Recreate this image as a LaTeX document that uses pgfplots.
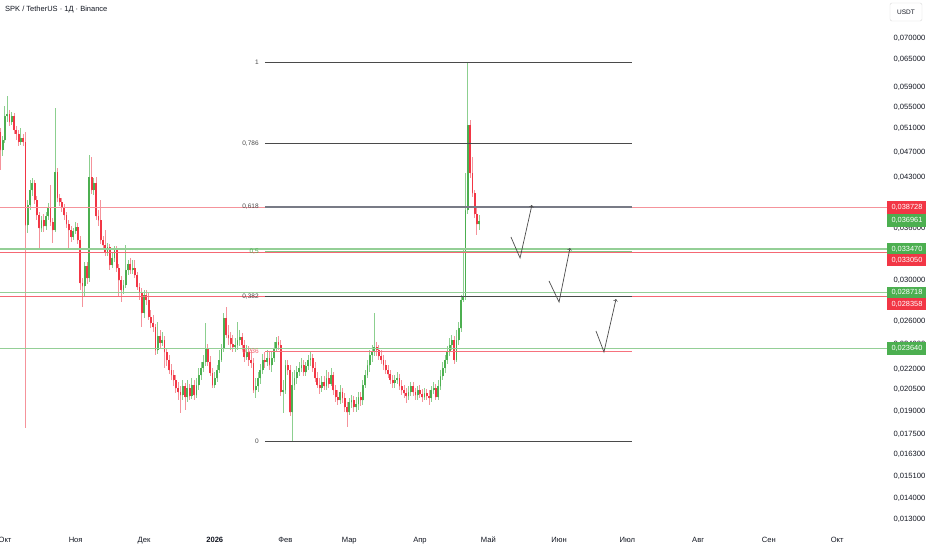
\documentclass[border=0pt]{standalone}
\usepackage{pgfplots}
\usepackage{pgfplotstable}
\pgfplotsset{compat=1.18}
\usepackage{fontspec}
\setmainfont{Liberation Sans}

\definecolor{up}{HTML}{4CAF50}
\definecolor{down}{HTML}{F23645}
\definecolor{upw}{HTML}{8CCF8F}
\definecolor{downw}{HTML}{F5939B}
\definecolor{txt}{HTML}{131722}
\definecolor{fibk}{HTML}{4A4A4A}
\definecolor{fibg}{HTML}{787B86}

% daily candles, d = days since 1 Oct 2025
\pgfplotstableread{
d o h l c
-2 0.05040 0.05110 0.04412 0.04732
-1 0.04732 0.04970 0.04634 0.04900
0 0.04900 0.05519 0.04849 0.05329
1 0.05329 0.05715 0.05218 0.05366
2 0.05366 0.05442 0.05146 0.05218
3 0.05218 0.05404 0.05164 0.05329
4 0.05329 0.05385 0.05005 0.05075
5 0.05075 0.05146 0.04900 0.05005
6 0.05005 0.05075 0.04798 0.04866
7 0.04866 0.05110 0.04815 0.04935
8 0.04935 0.05005 0.04798 0.04866
9 0.04866 0.05040 0.01790 0.03640
10 0.03640 0.03973 0.03540 0.03904
11 0.03904 0.04261 0.03836 0.04114
12 0.04114 0.04290 0.04029 0.04217
13 0.04217 0.04261 0.03918 0.03973
14 0.03973 0.04029 0.03704 0.03770
15 0.03770 0.03809 0.03359 0.03602
16 0.03602 0.03756 0.03552 0.03704
17 0.03704 0.03783 0.03552 0.03627
18 0.03627 0.03809 0.03577 0.03756
19 0.03756 0.03932 0.03704 0.03863
20 0.03863 0.04187 0.03627 0.03678
21 0.03678 0.03730 0.03418 0.03577
22 0.03577 0.05481 0.03552 0.04381
23 0.04381 0.04443 0.03945 0.04001
24 0.04001 0.04057 0.03891 0.03945
25 0.03945 0.04001 0.03809 0.03877
26 0.03877 0.03918 0.03704 0.03770
27 0.03770 0.03809 0.03602 0.03653
28 0.03653 0.03704 0.03336 0.03577
29 0.03577 0.03627 0.03430 0.03491
30 0.03491 0.03602 0.03454 0.03565
31 0.03565 0.03678 0.03527 0.03614
32 0.03614 0.03665 0.03406 0.03454
33 0.03454 0.03503 0.02900 0.02972
34 0.02972 0.03024 0.02733 0.02941
35 0.02941 0.03199 0.02830 0.03154
36 0.03154 0.03199 0.02961 0.03024
37 0.03024 0.04650 0.02982 0.04305
38 0.04305 0.04618 0.04057 0.04114
39 0.04114 0.04290 0.04043 0.04217
40 0.04217 0.04305 0.03704 0.03756
41 0.03756 0.03836 0.03627 0.03704
42 0.03704 0.03973 0.03406 0.03454
43 0.03454 0.03503 0.03336 0.03394
44 0.03394 0.03577 0.03267 0.03313
45 0.03313 0.03418 0.03267 0.03371
46 0.03371 0.03406 0.03110 0.03165
47 0.03165 0.03313 0.03132 0.03244
48 0.03244 0.03382 0.03199 0.03336
49 0.03336 0.03382 0.03088 0.03132
50 0.03132 0.03176 0.02830 0.03003
51 0.03003 0.03045 0.02781 0.02900
52 0.02900 0.03003 0.02860 0.02951
53 0.02951 0.03394 0.02920 0.03110
54 0.03110 0.03221 0.03056 0.03176
55 0.03176 0.03244 0.03067 0.03110
56 0.03110 0.03221 0.03067 0.03132
57 0.03132 0.03221 0.03024 0.03056
58 0.03056 0.03088 0.02900 0.02930
59 0.02930 0.02972 0.02801 0.02880
60 0.02880 0.02920 0.02548 0.02676
61 0.02676 0.02900 0.02630 0.02850
62 0.02850 0.02900 0.02752 0.02801
63 0.02801 0.02870 0.02611 0.02639
64 0.02639 0.02704 0.02539 0.02584
65 0.02584 0.02657 0.02504 0.02548
66 0.02548 0.02575 0.02310 0.02351
67 0.02351 0.02593 0.02319 0.02470
68 0.02470 0.02522 0.02368 0.02410
69 0.02410 0.02504 0.02385 0.02435
70 0.02435 0.02470 0.02208 0.02335
71 0.02335 0.02368 0.02224 0.02271
72 0.02271 0.02310 0.02162 0.02192
73 0.02192 0.02239 0.02117 0.02154
74 0.02154 0.02192 0.02073 0.02117
75 0.02117 0.02154 0.02023 0.02059
76 0.02059 0.02102 0.01974 0.02030
77 0.02030 0.02073 0.01886 0.02009
78 0.02009 0.02117 0.01974 0.02073
79 0.02073 0.02095 0.01906 0.01995
80 0.01995 0.02117 0.01960 0.02059
81 0.02059 0.02088 0.01974 0.02002
82 0.02002 0.02132 0.01981 0.02080
83 0.02080 0.02117 0.01974 0.02009
84 0.02009 0.02132 0.01988 0.02080
85 0.02080 0.02208 0.02044 0.02154
86 0.02154 0.02255 0.02117 0.02208
87 0.02208 0.02310 0.02177 0.02255
88 0.02255 0.02584 0.02224 0.02368
89 0.02368 0.02401 0.02224 0.02255
90 0.02255 0.02302 0.02147 0.02169
91 0.02169 0.02208 0.02059 0.02080
92 0.02080 0.02177 0.02059 0.02132
93 0.02132 0.02231 0.02102 0.02192
94 0.02192 0.02351 0.02169 0.02271
95 0.02271 0.02401 0.02255 0.02368
96 0.02368 0.02676 0.02335 0.02630
97 0.02630 0.02733 0.02452 0.02478
98 0.02478 0.02566 0.02393 0.02452
99 0.02452 0.02504 0.02351 0.02401
100 0.02401 0.02478 0.02335 0.02376
101 0.02376 0.02452 0.02335 0.02393
102 0.02393 0.02593 0.02351 0.02435
103 0.02435 0.02522 0.02385 0.02461
104 0.02461 0.02496 0.02351 0.02393
105 0.02393 0.02435 0.02255 0.02294
106 0.02294 0.02393 0.02271 0.02335
107 0.02335 0.02385 0.02224 0.02271
108 0.02271 0.02351 0.02208 0.02247
109 0.02247 0.02286 0.02023 0.02044
110 0.02044 0.02132 0.01988 0.02073
111 0.02073 0.02177 0.02030 0.02132
112 0.02132 0.02239 0.02088 0.02192
113 0.02192 0.02319 0.02162 0.02271
114 0.02271 0.02335 0.02208 0.02255
115 0.02255 0.02351 0.02224 0.02286
116 0.02286 0.02335 0.02192 0.02231
117 0.02231 0.02335 0.02177 0.02286
118 0.02286 0.02418 0.02255 0.02368
119 0.02368 0.02461 0.02335 0.02418
120 0.02418 0.02470 0.02351 0.02393
121 0.02393 0.02435 0.02002 0.02030
122 0.02030 0.02117 0.01886 0.02044
123 0.02044 0.02271 0.02016 0.02231
124 0.02231 0.02271 0.02154 0.02192
125 0.02192 0.02231 0.01866 0.01893
126 0.01893 0.02177 0.01710 0.02080
127 0.02080 0.02192 0.02044 0.02132
128 0.02132 0.02224 0.02088 0.02177
129 0.02177 0.02255 0.02147 0.02208
130 0.02208 0.02286 0.02177 0.02231
131 0.02231 0.02271 0.02147 0.02177
132 0.02177 0.02255 0.02147 0.02224
133 0.02224 0.02310 0.02192 0.02271
134 0.02271 0.02335 0.02224 0.02286
135 0.02286 0.02319 0.02177 0.02208
136 0.02208 0.02255 0.02102 0.02132
137 0.02132 0.02177 0.02059 0.02080
138 0.02080 0.02132 0.02016 0.02059
139 0.02059 0.02147 0.02030 0.02102
140 0.02102 0.02147 0.02044 0.02073
141 0.02073 0.02192 0.02044 0.02132
142 0.02132 0.02177 0.02059 0.02088
143 0.02088 0.02208 0.02073 0.02154
144 0.02154 0.02177 0.02009 0.02044
145 0.02044 0.02080 0.01960 0.01995
146 0.01995 0.02044 0.01940 0.01974
147 0.01974 0.02080 0.01947 0.02030
148 0.02030 0.02059 0.01953 0.01988
149 0.01988 0.02023 0.01893 0.01926
150 0.01926 0.01960 0.01796 0.01893
151 0.01893 0.01988 0.01873 0.01960
152 0.01960 0.02009 0.01920 0.01974
153 0.01974 0.02002 0.01893 0.01926
154 0.01926 0.01995 0.01893 0.01947
155 0.01947 0.02030 0.01906 0.01995
156 0.01995 0.02030 0.01933 0.01974
157 0.01974 0.02117 0.01940 0.02080
158 0.02080 0.02192 0.02059 0.02154
159 0.02154 0.02271 0.02132 0.02231
160 0.02231 0.02351 0.02177 0.02310
161 0.02310 0.02393 0.02255 0.02335
162 0.02335 0.02676 0.02302 0.02376
163 0.02376 0.02418 0.02302 0.02351
164 0.02351 0.02393 0.02271 0.02302
165 0.02302 0.02351 0.02239 0.02271
166 0.02271 0.02310 0.02192 0.02231
167 0.02231 0.02271 0.02162 0.02192
168 0.02192 0.02231 0.02132 0.02162
169 0.02162 0.02192 0.02088 0.02117
170 0.02117 0.02154 0.02059 0.02095
171 0.02095 0.02154 0.02059 0.02117
172 0.02117 0.02177 0.02088 0.02132
173 0.02132 0.02162 0.02044 0.02073
174 0.02073 0.02117 0.02009 0.02044
175 0.02044 0.02080 0.01988 0.02023
176 0.02023 0.02059 0.01953 0.02002
177 0.02002 0.02073 0.01974 0.02030
178 0.02030 0.02102 0.02002 0.02073
179 0.02073 0.02102 0.02002 0.02030
180 0.02030 0.02059 0.01974 0.02009
181 0.02009 0.02073 0.01974 0.02044
182 0.02044 0.02080 0.01988 0.02016
183 0.02016 0.02051 0.01960 0.01995
184 0.01995 0.02059 0.01974 0.02023
185 0.02023 0.02051 0.01974 0.02002
186 0.02002 0.02044 0.01940 0.01988
187 0.01988 0.02073 0.01960 0.02044
188 0.02044 0.02102 0.02016 0.02059
189 0.02059 0.02088 0.01974 0.01995
190 0.01995 0.02117 0.01974 0.02073
191 0.02073 0.02192 0.02044 0.02147
192 0.02147 0.02255 0.02117 0.02208
193 0.02208 0.02310 0.02169 0.02271
194 0.02271 0.02385 0.02239 0.02335
195 0.02335 0.02452 0.02302 0.02393
196 0.02393 0.02478 0.02351 0.02435
197 0.02435 0.02470 0.02239 0.02271
198 0.02271 0.02522 0.02255 0.02435
199 0.02435 0.02593 0.02393 0.02539
200 0.02539 0.02850 0.02504 0.02801
201 0.02801 0.03336 0.02781 0.02840
202 0.02840 0.04366 0.02801 0.03836
203 0.03836 0.06437 0.03783 0.05164
204 0.05164 0.05255 0.04290 0.04366
205 0.04366 0.04618 0.04015 0.04071
206 0.04071 0.04114 0.03730 0.03783
207 0.03783 0.03863 0.03515 0.03653
208 0.03653 0.03770 0.03577 0.03696
}\candles

\begin{document}
\begin{tikzpicture}[x=1pt,y=1pt]
\useasboundingbox[fill=white] (0,0) rectangle (932,550);
\begin{axis}[
    at={(0pt,22pt)}, anchor=south west,
    scale only axis, width=888pt, height=528pt,
    ymode=log,
    xmin=-2.19, xmax=387.28,
    ymin=0.012618, ymax=0.07995,
    clip=false,
    axis line style={draw=none},
    major tick length=0pt,
    xtick={0,31,61,92,123,151,182,212,243,273,304,335,365},
    xticklabels={Окт,Ноя,Дек,\textbf{2026},Фев,Мар,Апр,Май,Июн,Июл,Авг,Сен,Окт},
    xticklabel style={anchor=base, yshift=-14pt, text=txt, font=\fontsize{7.6}{9}\selectfont},
    ytick={0.070,0.065,0.059,0.055,0.051,0.047,0.043,0.036,0.030,0.026,0.024,0.022,0.0205,0.019,0.0175,0.0163,0.0151,0.014,0.013},
    yticklabels={{0,070000},{0,065000},{0,059000},{0,055000},{0,051000},{0,047000},{0,043000},{0,036000},{0,030000},{0,026000},{0,024000},{0,022000},{0,020500},{0,019000},{0,017500},{0,016300},{0,015100},{0,014000},{0,013000}},
    yticklabel pos=right,
    yticklabel style={anchor=west, xshift=2pt, text=txt, font=\fontsize{7.6}{9}\selectfont},
]
\pgfplotsset{candle/.style={only marks, mark=*, mark size=0.01pt,
    mark options={draw=none, fill=none}, forget plot}}
% wicks
\addplot[candle, color=upw,
    x filter/.expression={\thisrow{c}>=\thisrow{o} ? x : nan},
    error bars/.cd, y dir=both, y explicit, error mark=none,
    error bar style={line width=1pt, draw=upw}]
    table[x=d, y=c, y error plus expr=\thisrow{h}-\thisrow{c}, y error minus expr=\thisrow{c}-\thisrow{l}] {\candles};
\addplot[candle, color=downw,
    x filter/.expression={\thisrow{c}<\thisrow{o} ? x : nan},
    error bars/.cd, y dir=both, y explicit, error mark=none,
    error bar style={line width=1pt, draw=downw}]
    table[x=d, y=c, y error plus expr=\thisrow{h}-\thisrow{c}, y error minus expr=\thisrow{c}-\thisrow{l}] {\candles};
% bodies
\addplot[candle, color=up,
    x filter/.expression={\thisrow{c}>=\thisrow{o} ? x : nan},
    error bars/.cd, y dir=plus, y explicit, error mark=none,
    error bar style={line width=1.8pt, draw=up}]
    table[x=d, y=o, y error plus expr=\thisrow{c}-\thisrow{o}] {\candles};
\addplot[candle, color=down,
    x filter/.expression={\thisrow{c}<\thisrow{o} ? x : nan},
    error bars/.cd, y dir=plus, y explicit, error mark=none,
    error bar style={line width=1.8pt, draw=down}]
    table[x=d, y=c, y error plus expr=\thisrow{o}-\thisrow{c}] {\candles};

% horizontal levels
\addplot[downw, line width=1.1pt] coordinates {(-2.19,0.038728) (387.28,0.038728)};
\addplot[up!60, line width=1.1pt] coordinates {(-2.19,0.033470) (387.28,0.033470)};
\addplot[down!75, line width=1.1pt] coordinates {(-2.19,0.033050) (387.28,0.033050)};
\addplot[up!60, line width=1.1pt] coordinates {(-2.19,0.028718) (387.28,0.028718)};
\addplot[down!75, line width=1.1pt] coordinates {(-2.19,0.028358) (387.28,0.028358)};
\addplot[up!60, line width=1.1pt] coordinates {(-2.19,0.023640) (387.28,0.023640)};

% fibonacci levels
\addplot[fibk, line width=0.9pt] coordinates {(114,0.06437) (275,0.06437)};
\addplot[fibk, line width=0.9pt] coordinates {(114,0.04846) (275,0.04846)};
\addplot[fibg, line width=1.4pt] coordinates {(114,0.03879) (275,0.03879)};
\addplot[up!70, line width=1.3pt] coordinates {(114,0.03318) (275,0.03318)};
\addplot[fibk, line width=0.9pt] coordinates {(114,0.02837) (275,0.02837)};
\addplot[down!70, line width=1.1pt] coordinates {(114,0.02338) (275,0.02338)};
\addplot[fibk, line width=0.9pt] coordinates {(114,0.01710) (275,0.01710)};

\node[anchor=east, fibk, font=\fontsize{6.5}{7}\selectfont] at (axis cs:112.8,0.06437) {1};
\node[anchor=east, fibk, font=\fontsize{6.5}{7}\selectfont] at (axis cs:112.8,0.04846) {0,786};
\node[anchor=east, fibk, font=\fontsize{6.5}{7}\selectfont] at (axis cs:112.8,0.03879) {0,618};
\node[anchor=east, up, font=\fontsize{6.5}{7}\selectfont] at (axis cs:112.8,0.03318) {0,5};
\node[anchor=east, fibk, font=\fontsize{6.5}{7}\selectfont] at (axis cs:112.8,0.02837) {0,382};
\node[anchor=east, down!80, font=\fontsize{6.5}{7}\selectfont] at (axis cs:112.8,0.02338) {0,236};
\node[anchor=east, fibk, font=\fontsize{6.5}{7}\selectfont] at (axis cs:112.8,0.01710) {0};

% arrows
\addplot[fibk, line width=0.7pt, ->] coordinates {(221.9,0.03491) (225.9,0.03244) (231.1,0.03904)};
\addplot[fibk, line width=0.7pt, ->] coordinates {(238.6,0.02993) (243.0,0.02781) (247.8,0.03359)};
\addplot[fibk, line width=0.7pt, ->] coordinates {(259.2,0.02513) (262.7,0.02335) (268.0,0.02810)};

\coordinate (p1) at (axis cs:395.6,0.038728);
\coordinate (p2) at (axis cs:395.6,0.03696);
\coordinate (p3) at (axis cs:395.6,0.03347);
\coordinate (p4) at (axis cs:395.6,0.03221);
\coordinate (p5) at (axis cs:395.6,0.028718);
\coordinate (p6) at (axis cs:395.6,0.02762);
\coordinate (p7) at (axis cs:395.6,0.02364);
\end{axis}

\tikzset{pl/.style={minimum width=39pt, minimum height=12.5pt, inner sep=0pt, text=white, font=\fontsize{7.4}{8}\selectfont}}
\node[pl, fill=down] at (p1) {0,038728};
\node[pl, fill=up] at (p2) {0,036961};
\node[pl, fill=up] at (p3) {0,033470};
\node[pl, fill=down] at (p4) {0,033050};
\node[pl, fill=up] at (p5) {0,028718};
\node[pl, fill=down] at (p6) {0,028358};
\node[pl, fill=up] at (p7) {0,023640};

\node[anchor=west, text=txt, font=\fontsize{7.5}{9}\selectfont, inner sep=0pt] at (5,540) {SPK / TetherUS · 1Д · Binance};
\node[draw=gray!30, rounded corners=2pt, minimum width=32pt, minimum height=18pt, inner sep=0pt, text=txt, font=\fontsize{6.5}{8}\selectfont] at (906,538) {USDT};
\end{tikzpicture}
\end{document}
